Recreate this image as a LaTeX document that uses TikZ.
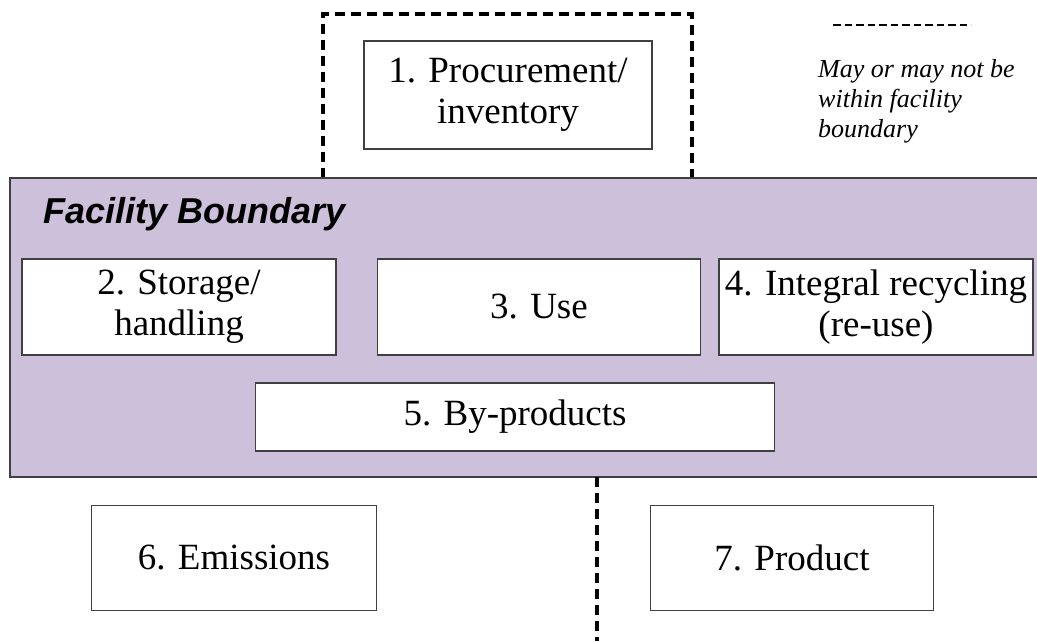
\documentclass[tikz,border=0pt]{standalone}
\usepackage{fontspec}
\setmainfont{Liberation Serif}
\newfontfamily\arialf{Liberation Sans}
\definecolor{fpurple}{RGB}{204,192,218}
\definecolor{bordergray}{RGB}{64,64,64}
\begin{document}
\begin{tikzpicture}[x=1pt,y=-1pt,
  stagebox/.style={draw=bordergray,line width=1.4pt,fill=white,inner sep=0pt,align=center,
    font=\fontsize{37}{41}\selectfont},
  boundarydash/.style={line width=3.5pt,dash pattern=on 10pt off 6pt},
  legenddash/.style={line width=2.2pt,dash pattern=on 7.5pt off 4pt}]
\useasboundingbox (0,0) rectangle (1037,641);
% dashed optional boundary (top)
\coordinate (tl0) at (323,178);
\coordinate (tl1) at (323,14);
\coordinate (tr1) at (692,14);
\coordinate (tr0) at (692,178);
\draw[boundarydash] (tl0) -- (tl1) -- (tr1) -- (tr0);
% facility boundary
\fill[fpurple] (10,178) rectangle (1037,477);
\draw[bordergray,line width=1.6pt] (1037,178) -- (10,178) -- (10,477) -- (1037,477);
\node[anchor=base west,font=\arialf\bfseries\itshape\fontsize{36}{40}\selectfont,inner sep=0pt] (fb) at (43,223) {Facility Boundary};
% bottom dashed line
\coordinate (b0) at (597,477);
\coordinate (b1) at (597,641);
\draw[boundarydash] (b0) -- (b1);
% boxes
\node[stagebox,minimum width=288pt,minimum height=108pt] (n1) at (508,95) {1. Procurement/\\inventory};
\node[stagebox,minimum width=314pt,minimum height=96pt] (n2) at (179,307) {2. Storage/\\handling};
\node[stagebox,minimum width=323pt,minimum height=96pt] (n3) at (539,307) {3. Use};
\node[stagebox,minimum width=314pt,minimum height=96pt] (n4) at (876,307) {4. Integral recycling\\(re-use)};
\node[stagebox,minimum width=519pt,minimum height=68pt] (n5) at (515,417) {5. By-products};
\node[stagebox,minimum width=285pt,minimum height=105pt] (n6) at (234,558) {6. Emissions};
\node[stagebox,minimum width=283pt,minimum height=105pt] (n7) at (792,558) {7. Product};
% legend
\coordinate (l0) at (833,25);
\coordinate (l1) at (971,25);
\draw[legenddash] (l0) -- (l1);
\node[anchor=base west,align=left,inner sep=0pt,font=\itshape\fontsize{26}{30}\selectfont] (leg) at (818,137) {May or may not be\\within facility\\boundary};
\end{tikzpicture}
\end{document}
